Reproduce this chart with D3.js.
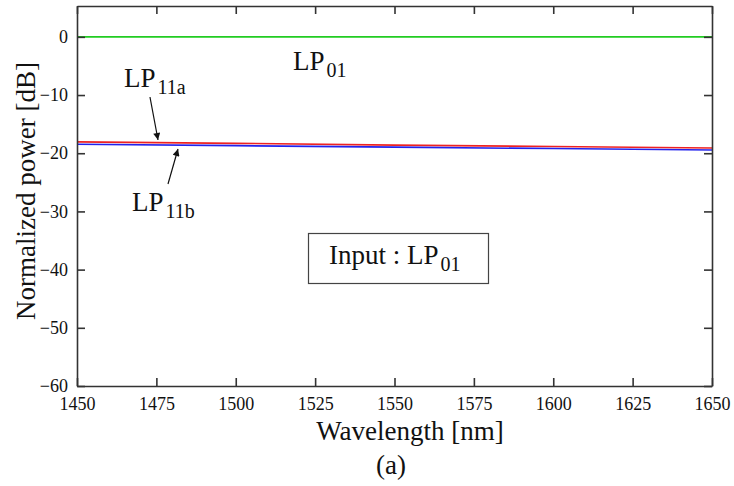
<!DOCTYPE html>
<html>
<head>
<meta charset="utf-8">
<script src="https://cdn.jsdelivr.net/npm/d3@7"></script>
<style>
  body { margin: 0; background: #fff; }
</style>
</head>
<body>
<script>
// data
const wavelength = [1450, 1500, 1550, 1600, 1650];
const lp01 = [0, 0, 0, 0, 0];
const lp11a = [-18.05, -18.3, -18.6, -18.85, -19.1];
const lp11b = [-18.45, -18.7, -18.95, -19.2, -19.45];
const xTicks = [1450, 1475, 1500, 1525, 1550, 1575, 1600, 1625, 1650];
const yTicks = [-60, -50, -40, -30, -20, -10, 0];

const width = 734, height = 486;
const plotLeft = 77, plotRight = 712, plotTop = 6, plotBottom = 386;
const serif = "'Liberation Serif', 'Times New Roman', serif";

const svg = d3.select('body').append('svg')
  .attr('width', width)
  .attr('height', height);

const x = d3.scaleLinear().domain([1450, 1650]).range([plotLeft, plotRight]);
const y = d3.scaleLinear().domain([-60, 5.3]).range([plotBottom, plotTop]);

const line = d3.line()
  .x((d, i) => x(wavelength[i]))
  .y(d => y(d));

//curves
const series = [[lp01, '#22cc22'], [lp11a, '#ee2222'], [lp11b, '#2222ee']];
series.forEach(s => {
  svg.append('path')
     .datum(s[0])
     .attr('d', line)
     .attr('fill', 'none')
     .attr('stroke', s[1])
     .attr('stroke-width', 1.6);
});

//axes, ticks inward on all four sides
const axisColor = '#333';
function styleAxis(g) {
  g.selectAll('path, line').attr('stroke', axisColor).attr('stroke-width', 1.6);
  g.selectAll('text')
   .style('font-family', serif)
   .style('font-size', '18px')
   .attr('fill', '#111');
}

svg.append('g')
   .attr('transform', 'translate(0,' + plotBottom + ')')
   .call(d3.axisBottom(x).tickValues(xTicks).tickFormat(d3.format('d'))
     .tickSizeInner(-8).tickSizeOuter(0).tickPadding(11))
   .call(styleAxis);

svg.append('g')
   .attr('transform', 'translate(0,' + plotTop + ')')
   .call(d3.axisTop(x).tickValues(xTicks).tickFormat('')
     .tickSizeInner(-8).tickSizeOuter(0))
   .call(styleAxis);

svg.append('g')
   .attr('transform', 'translate(' + plotLeft + ',0)')
   .call(d3.axisLeft(y).tickValues(yTicks).tickFormat(d3.format('d'))
     .tickSizeInner(-8).tickSizeOuter(0).tickPadding(9))
   .call(styleAxis);

svg.append('g')
   .attr('transform', 'translate(' + plotRight + ',0)')
   .call(d3.axisRight(y).tickValues(yTicks).tickFormat('')
     .tickSizeInner(-8).tickSizeOuter(0))
   .call(styleAxis);

//axis titles
function label(txt, px, py, size) {
  return svg.append('text')
     .text(txt)
     .attr('x', px)
     .attr('y', py)
     .attr('text-anchor', 'middle')
     .attr('fill', '#111')
     .style('font-family', serif)
     .style('font-size', size + 'px');
}

label('Wavelength [nm]', 410, 440, 27);
label('(a)', 391, 474, 27);
label('Normalized power [dB]', 0, 0, 27)
   .attr('transform', 'translate(35,191) rotate(-90)');

//mode labels with subscripts
function modeLabel(px, py, main, sub) {
  const t = svg.append('text')
     .attr('x', px)
     .attr('y', py)
     .attr('fill', '#111')
     .style('font-family', serif)
     .style('font-size', '27px');
  t.append('tspan').text(main);
  t.append('tspan').text(sub).style('font-size', '20px').attr('dx', 2).attr('dy', 7);
  return t;
}

modeLabel(293, 70, 'LP', '01');
modeLabel(124, 87, 'LP', '11a');
modeLabel(132, 211, 'LP', '11b');

//arrows
svg.append('defs').append('marker')
   .attr('id', 'head')
   .attr('viewBox', '0 0 10 10')
   .attr('refX', 10)
   .attr('refY', 5)
   .attr('markerWidth', 9)
   .attr('markerHeight', 7)
   .attr('markerUnits', 'userSpaceOnUse')
   .attr('orient', 'auto')
   .append('path')
   .attr('d', 'M0,0 L10,5 L0,10 z')
   .attr('fill', '#111');

svg.append('line')
   .attr('x1', 150).attr('y1', 97)
   .attr('x2', 158).attr('y2', 140)
   .attr('stroke', '#111').attr('stroke-width', 1.2)
   .attr('marker-end', 'url(#head)');

svg.append('line')
   .attr('x1', 168).attr('y1', 184)
   .attr('x2', 178).attr('y2', 149)
   .attr('stroke', '#111').attr('stroke-width', 1.2)
   .attr('marker-end', 'url(#head)');

//input box
svg.append('rect')
   .attr('x', 308.5).attr('y', 233.5)
   .attr('width', 180).attr('height', 50)
   .attr('fill', '#fff')
   .attr('stroke', '#444')
   .attr('stroke-width', 1.2);

modeLabel(329, 264, 'Input : LP', '01');
</script>
</body>
</html>
